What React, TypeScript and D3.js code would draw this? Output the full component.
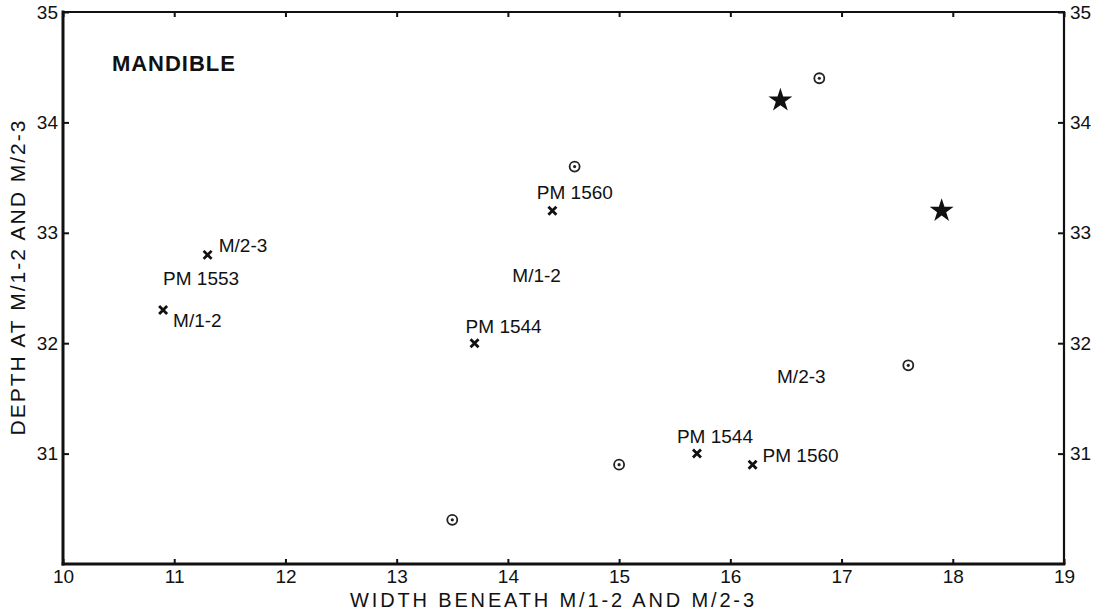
import React, { useEffect, useRef } from 'react';
import * as d3 from 'd3';

const W = 1107;
const H = 616;
const margin = { top: 12, right: 43, bottom: 52, left: 63 };
const FONT = '"Liberation Sans", Arial, Helvetica, sans-serif';
const INK = '#111';

const xTicks = [10, 11, 12, 13, 14, 15, 16, 17, 18, 19];
const yTicks = [31, 32, 33, 34, 35];

// x = width beneath M/1-2 and M/2-3, y = depth
const crossWidth = [11.3, 10.9, 14.4, 13.7, 15.7, 16.2];
const crossDepth = [32.8, 32.3, 33.2, 32.0, 31.0, 30.9];

const circleWidth = [14.6, 16.8, 17.6, 15.0, 13.5];
const circleDepth = [33.6, 34.4, 31.8, 30.9, 30.4];

const starWidth = [16.45, 17.9];
const starDepth = [34.2, 33.2];

// annotations (start of text, baseline) in data units
const labelText = ['M/2-3', 'PM 1553', 'M/1-2', 'PM 1560', 'M/1-2', 'PM 1544', 'M/2-3', 'PM 1544', 'PM 1560'];
const labelWidth = [11.4, 10.9, 10.99, 14.26, 14.04, 13.62, 16.42, 15.52, 16.29];
const labelDepth = [32.83, 32.53, 32.15, 33.31, 32.55, 32.09, 31.64, 31.1, 30.92];

export default function App() {
  const ref = useRef<SVGSVGElement>(null);

  useEffect(() => {
    const svg = d3.select(ref.current);
    svg.selectAll('*').remove();

    const x = d3.scaleLinear().domain([10, 19]).range([margin.left, W - margin.right]);
    const y = d3.scaleLinear().domain([30, 35]).range([H - margin.bottom, margin.top]);

    const styleAxis = (g: any) => {
      g.attr('font-size', 19).attr('font-family', FONT);
      g.select('.domain').remove();
      g.selectAll('.tick line').attr('stroke', INK).attr('stroke-width', 2);
      g.selectAll('.tick text').attr('fill', INK);
    };

    svg
      .append('g')
      .attr('transform', `translate(0,${y(30)})`)
      .call(d3.axisBottom(x).tickValues(xTicks).tickSizeInner(-5).tickSizeOuter(0).tickPadding(6).tickFormat(d3.format('d')))
      .call(styleAxis);

    svg
      .append('g')
      .attr('transform', `translate(0,${y(35)})`)
      .call(d3.axisTop(x).tickValues(xTicks).tickSizeInner(-5).tickSizeOuter(0).tickFormat(() => ''))
      .call(styleAxis);

    svg
      .append('g')
      .attr('transform', `translate(${x(10)},0)`)
      .call(d3.axisLeft(y).tickValues(yTicks).tickSizeInner(-6).tickSizeOuter(0).tickPadding(5).tickFormat(d3.format('d')))
      .call(styleAxis);

    svg
      .append('g')
      .attr('transform', `translate(${x(19)},0)`)
      .call(d3.axisRight(y).tickValues(yTicks).tickSizeInner(-6).tickSizeOuter(0).tickPadding(6).tickFormat(d3.format('d')))
      .call(styleAxis);

    // frame
    const frame = svg.append('g').attr('stroke', INK).attr('stroke-linecap', 'square');
    frame.append('line').attr('x1', x(10)).attr('x2', x(10)).attr('y1', y(35)).attr('y2', y(30)).attr('stroke-width', 3);
    frame.append('line').attr('x1', x(10)).attr('x2', x(19)).attr('y1', y(30)).attr('y2', y(30)).attr('stroke-width', 2.8);
    frame.append('line').attr('x1', x(10)).attr('x2', x(19)).attr('y1', y(35)).attr('y2', y(35)).attr('stroke-width', 2);
    frame.append('line').attr('x1', x(19)).attr('x2', x(19)).attr('y1', y(35)).attr('y2', y(30)).attr('stroke-width', 2.2);

    // crosses
    svg
      .append('g')
      .selectAll('path')
      .data(d3.range(crossWidth.length))
      .join('path')
      .attr('d', 'M-4,-4L4,4M-4,4L4,-4')
      .attr('transform', (i: number) => `translate(${x(crossWidth[i])},${y(crossDepth[i])})`)
      .attr('stroke', INK)
      .attr('stroke-width', 2.8)
      .attr('fill', 'none');

    // dotted circles
    const circ = svg
      .append('g')
      .selectAll('g')
      .data(d3.range(circleWidth.length))
      .join('g')
      .attr('transform', (i: number) => `translate(${x(circleWidth[i])},${y(circleDepth[i])})`);
    circ.append('circle').attr('r', 5).attr('fill', '#fff').attr('stroke', '#222').attr('stroke-width', 1.8);
    circ.append('circle').attr('r', 1.6).attr('fill', '#222');

    // stars
    svg
      .append('g')
      .selectAll('path')
      .data(d3.range(starWidth.length))
      .join('path')
      .attr('d', d3.symbol(d3.symbolStar, 178) as any)
      .attr('transform', (i: number) => `translate(${x(starWidth[i])},${y(starDepth[i])})`)
      .attr('fill', INK);

    // point labels
    svg
      .append('g')
      .attr('font-family', FONT)
      .attr('font-size', 19)
      .attr('fill', INK)
      .selectAll('text')
      .data(d3.range(labelText.length))
      .join('text')
      .attr('x', (i: number) => x(labelWidth[i]))
      .attr('y', (i: number) => y(labelDepth[i]))
      .text((i: number) => labelText[i]);

    svg
      .append('text')
      .attr('x', x(10.44))
      .attr('y', y(34.47))
      .attr('font-family', FONT)
      .attr('font-size', 22)
      .attr('font-weight', 'bold')
      .attr('textLength', 123)
      .attr('lengthAdjust', 'spacing')
      .attr('fill', INK)
      .text('MANDIBLE');

    // axis titles
    svg
      .append('text')
      .attr('x', 350)
      .attr('y', 607)
      .attr('font-family', FONT)
      .attr('font-size', 20)
      .attr('textLength', 404)
      .attr('lengthAdjust', 'spacing')
      .attr('fill', INK)
      .text('WIDTH BENEATH M/1-2 AND M/2-3');

    svg
      .append('text')
      .attr('transform', 'translate(25,278) rotate(-90)')
      .attr('text-anchor', 'middle')
      .attr('font-family', FONT)
      .attr('font-size', 21)
      .attr('textLength', 315)
      .attr('lengthAdjust', 'spacing')
      .attr('fill', INK)
      .text('DEPTH AT M/1-2 AND M/2-3');
  }, []);

  return (
    <svg
      ref={ref}
      width={W}
      height={H}
      style={{ position: 'absolute', left: 0, top: 0, background: '#fff' }}
    />
  );
}
